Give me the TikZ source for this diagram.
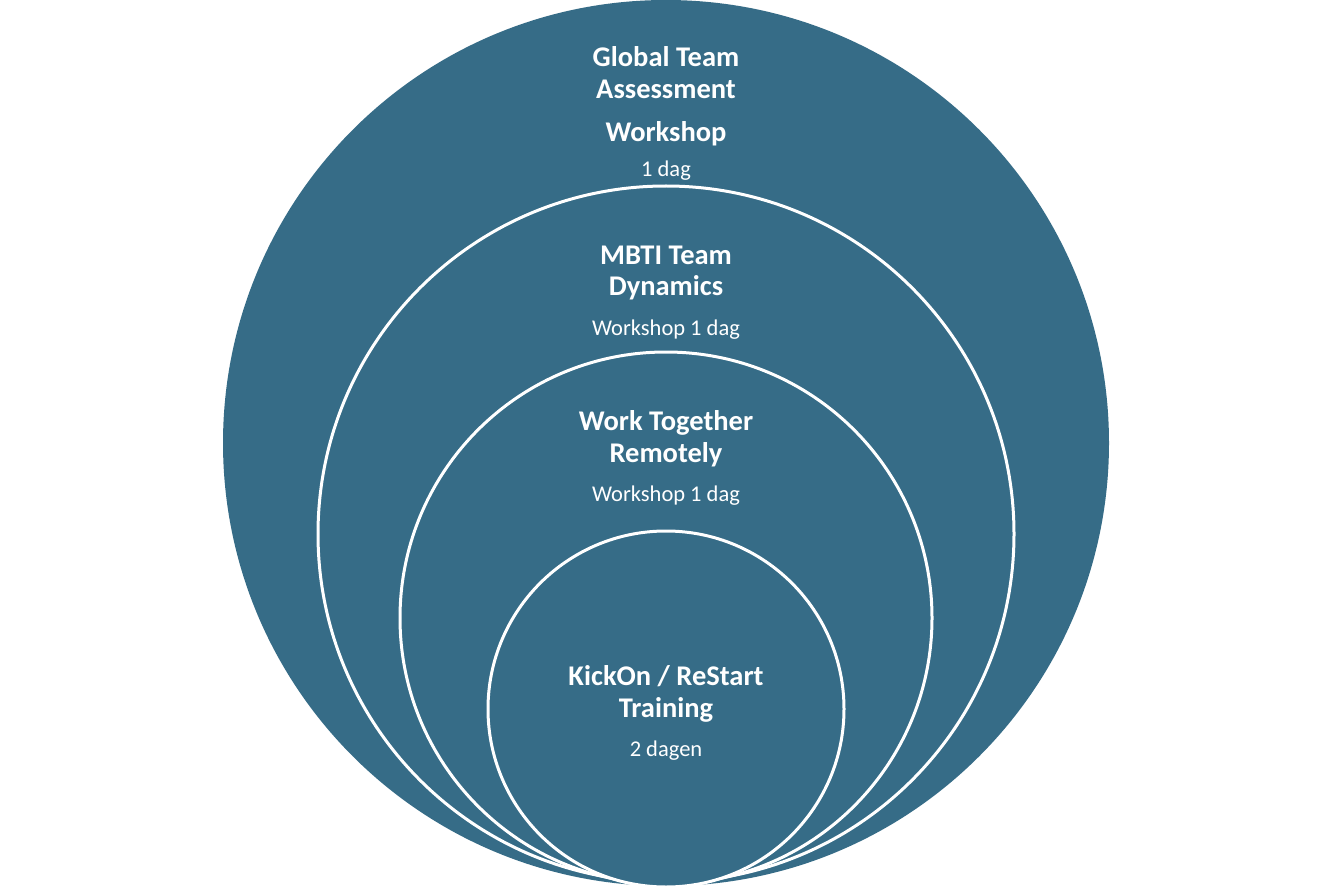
\documentclass[tikz,border=0pt]{standalone}
\usepackage{fontspec}
\setmainfont{Carlito}
\begin{document}
\begin{tikzpicture}[x=1pt,y=-1pt]
\definecolor{tb}{HTML}{366C87}
\tikzset{ring/.style={circle,fill=tb,draw=white,line width=3pt,inner sep=0pt},
 ttl/.style={text=white,font=\bfseries\fontsize{28.5}{32}\selectfont,align=center},
 sub/.style={text=white,font=\fontsize{22.5}{26}\selectfont}}
\useasboundingbox[fill=white] (0,0) rectangle (1333,893);
\node[ring,draw=none,minimum size=886pt] (c1) at (666,443) {};
\node[ring,minimum size=696pt] (c2) at (666,534) {};
\node[ring,minimum size=532pt] (c3) at (666,618) {};
\node[ring,minimum size=356pt] (c4) at (666,709) {};
\node[ttl] (t1) at (666,73) {Global Team\\Assessment};
\node[ttl] (t1b) at (666,134) {Workshop};
\node[sub] (s1) at (666,171) {1 dag};
\node[ttl] (t2) at (666,273) {MBTI Team\\Dynamics};
\node[sub] (s2) at (666,330) {Workshop 1 dag};
\node[ttl] (t3) at (666,439) {Work Together\\Remotely};
\node[sub] (s3) at (666,496) {Workshop 1 dag};
\node[ttl] (t4) at (666,694) {KickOn / ReStart\\Training};
\node[sub] (s4) at (666,751) {2 dagen};
\end{tikzpicture}
\end{document}
